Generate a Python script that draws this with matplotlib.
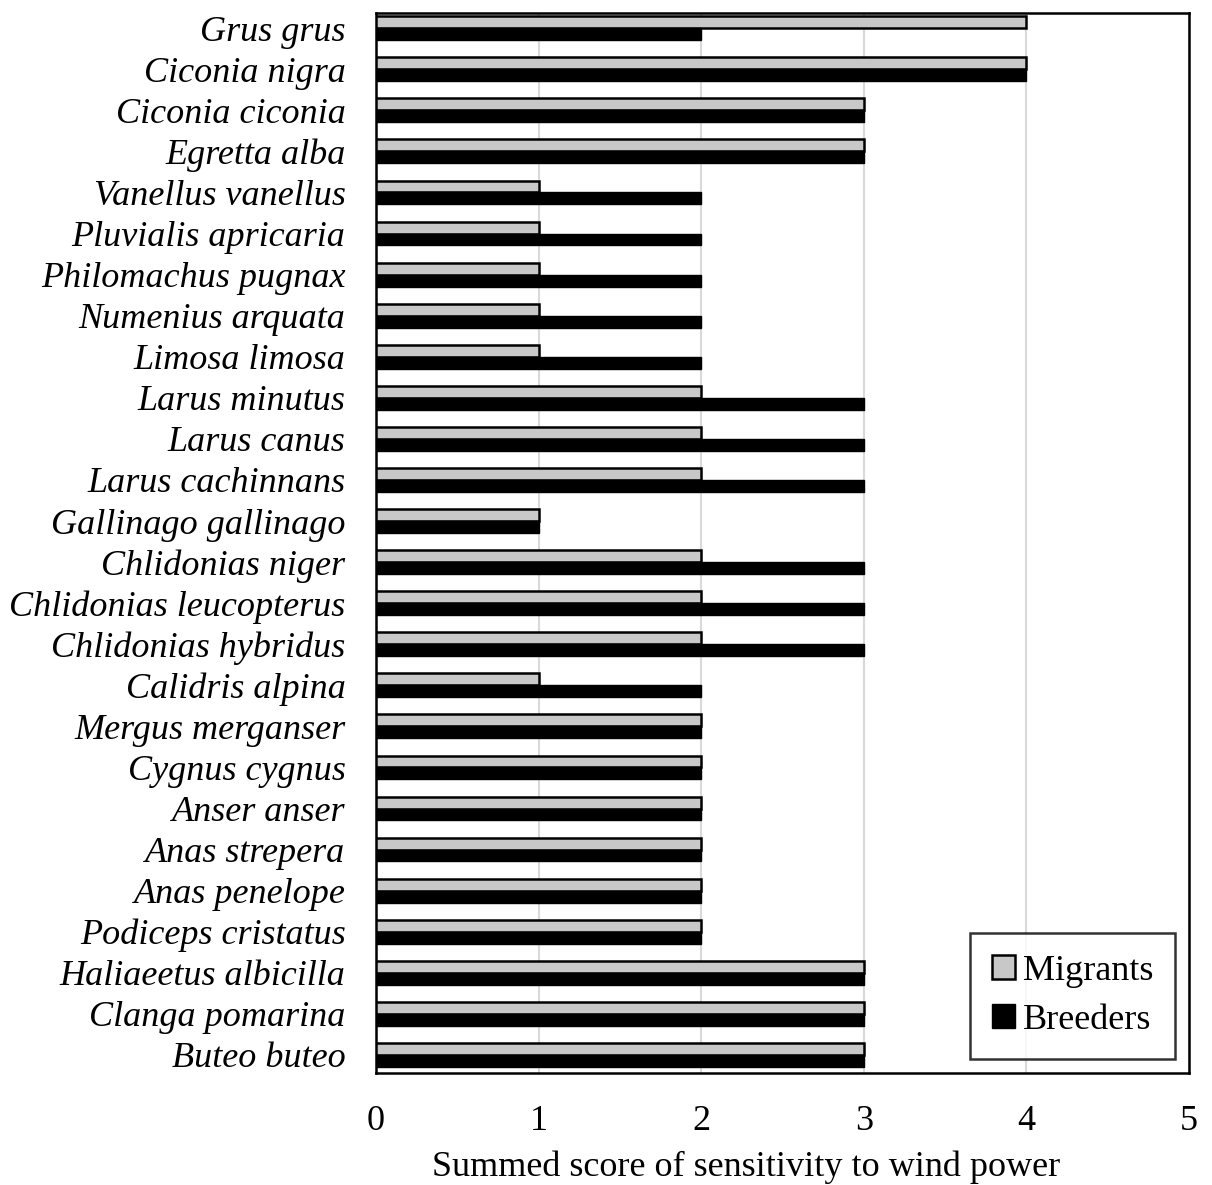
import matplotlib
matplotlib.use("Agg")
import matplotlib.pyplot as plt
import numpy as np

species = ["Grus grus", "Ciconia nigra", "Ciconia ciconia", "Egretta alba",
           "Vanellus vanellus", "Pluvialis apricaria", "Philomachus pugnax",
           "Numenius arquata", "Limosa limosa", "Larus minutus", "Larus canus",
           "Larus cachinnans", "Gallinago gallinago", "Chlidonias niger",
           "Chlidonias leucopterus", "Chlidonias hybridus", "Calidris alpina",
           "Mergus merganser", "Cygnus cygnus", "Anser anser", "Anas strepera",
           "Anas penelope", "Podiceps cristatus", "Haliaeetus albicilla",
           "Clanga pomarina", "Buteo buteo"]
migrants = [4, 4, 3, 3, 1, 1, 1, 1, 1, 2, 2, 2, 1, 2, 2, 2, 1, 2, 2, 2, 2, 2, 2, 3, 3, 3]
breeders = [2, 4, 3, 3, 2, 2, 2, 2, 2, 3, 3, 3, 1, 3, 3, 3, 2, 2, 2, 2, 2, 2, 2, 3, 3, 3]
xticks = [0, 1, 2, 3, 4, 5]

plt.rcParams['font.family'] = ['Liberation Serif', 'DejaVu Serif']

fig = plt.figure(figsize=(12.12, 11.85), dpi=100)
ax = fig.add_axes([376/1212, 1 - 1073/1185, (1189-376)/1212, (1073-13)/1185])

y = np.arange(len(species))
h = 0.29
ax.barh(y - h/2, migrants, height=h, color='#c8c8c8', edgecolor='black', linewidth=1.8,
        label='Migrants', zorder=3)
ax.barh(y + h/2, breeders, height=h, color='black', edgecolor='black', linewidth=1.0,
        label='Breeders', zorder=3)

ax.set_ylim(25.44, -0.37)
ax.set_xlim(0, 5)
ax.set_yticks(y)
ax.set_yticklabels(species, fontstyle='italic', fontsize=26)
ax.set_xticks(xticks)
ax.set_xticklabels([str(t) for t in xticks], fontsize=26)
ax.tick_params(axis='both', length=0)
ax.tick_params(axis='y', pad=22)
ax.tick_params(axis='x', pad=23)
ax.xaxis.grid(True, color='#d9d9d9', linewidth=1.5, zorder=0)
ax.set_axisbelow(True)
for s in ax.spines.values():
    s.set_linewidth(1.8)
    s.set_color('black')
ax.set_xlabel('Summed score of sensitivity to wind power', fontsize=26, labelpad=12)
ax.xaxis.set_label_coords((746 - 376) / 813, -0.073)

leg = ax.legend(loc='lower right', fontsize=26, frameon=True, fancybox=False,
                edgecolor='black', handlelength=0.65, handleheight=0.65,
                handletextpad=0.2, labelspacing=0.45, borderpad=0.6,
                borderaxespad=0.4)
leg.get_frame().set_linewidth(1.8)

fig.savefig('out.png', dpi=100)
